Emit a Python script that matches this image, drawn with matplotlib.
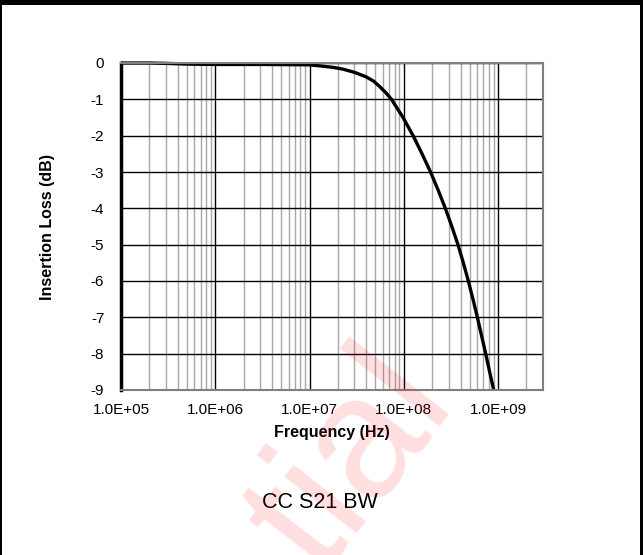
import numpy as np
import matplotlib.pyplot as plt
from matplotlib.ticker import LogLocator, FixedLocator, NullFormatter
from matplotlib.patches import Rectangle

plt.rcParams['font.family'] = ['Liberation Sans', 'DejaVu Sans']

# S21 insertion loss vs frequency
frecuencia = [1.0e5, 2.0e5, 3.0e5, 5.0e5, 1.0e6, 3.0e6, 1.0e7, 1.29e7, 1.78e7,
              2.27e7, 3.02e7, 3.98e7, 4.79e7, 5.56e7, 6.46e7, 7.41e7, 9.82e7,
              1.256e8, 1.563e8, 1.923e8, 2.317e8, 2.761e8, 3.236e8, 3.758e8,
              4.285e8, 4.842e8, 5.420e8, 6.039e8, 6.683e8, 7.396e8, 8.147e8,
              8.995e8]
perdida = [0.0, 0.0, -0.01, -0.03, -0.04, -0.04, -0.05, -0.08, -0.12,
           -0.17, -0.26, -0.38, -0.50, -0.65, -0.82, -1.0, -1.5,
           -2.0, -2.5, -3.0, -3.5, -4.0, -4.5, -5.0,
           -5.5, -6.0, -6.5, -7.0, -7.5, -8.0, -8.5,
           -9.0]

ticks_x = [1e5, 1e6, 1e7, 1e8, 1e9]
etiquetas_x = ["1.0E+05", "1.0E+06", "1.0E+07", "1.0E+08", "1.0E+09"]
ticks_y = [0, -1, -2, -3, -4, -5, -6, -7, -8, -9]

fig = plt.figure(figsize=(6.43, 5.55), dpi=100)
ax = fig.add_axes([121/643, 165/555, 422/643, 327/555])

ax.set_xscale("log")
ax.set_xlim(1e5, 3e9)
ax.set_ylim(-9, 0)

ax.xaxis.set_major_locator(FixedLocator(ticks_x))
ax.set_xticklabels(etiquetas_x)
ax.xaxis.set_minor_locator(LogLocator(base=10, subs=np.arange(2, 10)))
ax.xaxis.set_minor_formatter(NullFormatter())
ax.set_yticks(ticks_y)
ax.set_yticklabels([str(t) for t in ticks_y])

ax.grid(which="major", axis="both", color="black", linewidth=1.0)
ax.grid(which="minor", axis="x", color="#a8a8a8", linewidth=1.0)
ax.set_axisbelow(True)
ax.tick_params(which="both", length=0, labelsize=11, pad=9)
ax.tick_params(axis="y", pad=12)

for lado in ["top", "right", "bottom"]:
    ax.spines[lado].set_color("#7f7f7f")
    ax.spines[lado].set_linewidth(1.5)
ax.spines["left"].set_color("black")
ax.spines["left"].set_linewidth(2.5)

ax.plot(frecuencia, perdida, color="black", linewidth=2.4,
        solid_joinstyle="round", solid_capstyle="butt", clip_on=False)

ax.set_xlabel("Frequency (Hz)", fontsize=11.5, fontweight="bold", labelpad=6)
ax.set_ylabel("Insertion Loss (dB)", fontsize=11.5, fontweight="bold", labelpad=26)

fig.text(320/643, 1 - 503/555, "CC S21 BW", fontsize=15.5,
         ha="center", va="center")

# marca de agua
fig.text(352/643, 1 - 462/555, "tial", fontsize=125, color="#ff0000",
         alpha=0.13, rotation=52, ha="center", va="center", zorder=10)

# marco de la figura
fig.add_artist(Rectangle((0, 1 - 5/555), 1, 5/555, facecolor="black",
                         edgecolor="none", transform=fig.transFigure, zorder=20))
fig.add_artist(Rectangle((0, 0), 2/643, 1, facecolor="black",
                         edgecolor="none", transform=fig.transFigure, zorder=20))
fig.add_artist(Rectangle((640/643, 0), 3/643, 1, facecolor="black",
                         edgecolor="none", transform=fig.transFigure, zorder=20))

plt.savefig("out.png", dpi=100)
